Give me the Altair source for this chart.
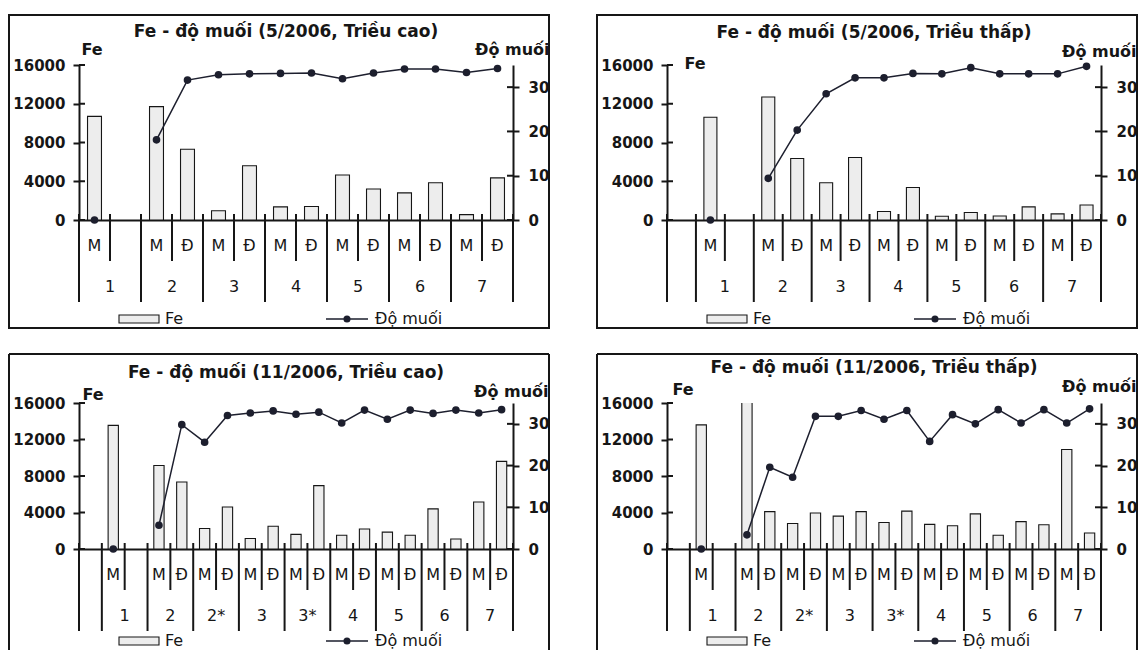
import altair as alt
import pandas as pd

FONT = "DejaVu Sans"
INK = "#161616"
LINE_C = "#1d1f2e"
BAR_FILL = "#ededed"

# ---------------- data ----------------
titles = [
    "Fe - độ muối (5/2006, Triều cao)",
    "Fe - độ muối (5/2006, Triều thấp)",
    "Fe - độ muối (11/2006, Triều cao)",
    "Fe - độ muối (11/2006, Triều thấp)",
]

stations_p1 = ["1", "1", "2", "2", "3", "3", "4", "4", "5", "5", "6", "6", "7", "7"]
subs_p1 = ["M", "", "M", "Đ", "M", "Đ", "M", "Đ", "M", "Đ", "M", "Đ", "M", "Đ"]
fe_p1 = [10700, None, 11700, 7300, 950, 5600, 1350, 1400, 4650, 3200, 2800, 3850, 550, 4350]
sal_p1 = [0, None, 18.1, 31.6, 32.8, 33.0, 33.1, 33.2, 31.9, 33.2, 34.1, 34.1, 33.3, 34.2]

stations_p2 = ["", "1", "1", "2", "2", "3", "3", "4", "4", "5", "5", "6", "6", "7", "7"]
subs_p2 = ["", "M", "", "M", "Đ", "M", "Đ", "M", "Đ", "M", "Đ", "M", "Đ", "M", "Đ"]
fe_p2 = [None, 10600, None, 12700, 6350, 3850, 6450, 870, 3350, 380, 770, 420, 1350, 630, 1550]
sal_p2 = [None, 0, None, 9.4, 20.3, 28.5, 32.1, 32.1, 33.1, 33.0, 34.4, 33.0, 33.0, 33.0, 34.7]

stations_p3 = ["", "1", "1", "2", "2", "2*", "2*", "3", "3", "3*", "3*",
               "4", "4", "5", "5", "6", "6", "7", "7"]
subs_p3 = ["", "M", "", "M", "Đ", "M", "Đ", "M", "Đ", "M", "Đ",
           "M", "Đ", "M", "Đ", "M", "Đ", "M", "Đ"]
fe_p3 = [None, 13550, None, 9150, 7350, 2250, 4600, 1150, 2500, 1600, 6950,
         1500, 2200, 1850, 1500, 4400, 1100, 5150, 9600]
sal_p3 = [None, 0, None, 5.7, 29.8, 25.6, 32.0, 32.6, 33.1, 32.3, 32.8,
          30.2, 33.3, 31.1, 33.3, 32.5, 33.3, 32.6, 33.4]

stations_p4 = list(stations_p3)
subs_p4 = list(subs_p3)
fe_p4 = [None, 13600, None, 17000, 4100, 2800, 3950, 3600, 4100, 2900, 4150,
         2700, 2550, 3850, 1500, 3000, 2650, 10900, 1750]
sal_p4 = [None, 0, None, 3.4, 19.6, 17.2, 31.8, 31.8, 33.2, 31.1, 33.2,
          25.8, 32.2, 30.0, 33.4, 30.2, 33.4, 30.2, 33.6]

fe_ticks = [0, 4000, 8000, 12000, 16000]
sal_ticks = [0, 10, 20, 30]

W = 434


def panel(title, stations, subs, fe, sal, h, fe_title_xy, sal_title_xy, title_dy,
          closed, legend_dy):
    n = len(stations)
    slots = list(range(n))
    seg, s = [], 0
    for v in sal:
        if v is None:
            s += 1
        seg.append(s)
    df = pd.DataFrame({"slot": slots, "station": stations, "sub": subs,
                       "fe": fe, "sal": sal, "seg": seg})
    df_bar = df[[v is not None for v in fe]].copy()
    df_bar["lab"] = "Fe"
    df_line = df[[v is not None for v in sal]].copy()
    df_line["lab"] = "Độ muối"
    long_df = pd.DataFrame({"slot": [i for i in slots if i == 0 or stations[i] != stations[i - 1]]})
    end_df = pd.DataFrame({"slot": [n - 1]})
    short_df = pd.DataFrame({"slot": [i for i in slots[1:] if stations[i] == stations[i - 1] and stations[i] != ""]})
    sub_df = df[df["sub"] != ""]
    st_slots = [i for i in slots if stations[i] != "" and (i == 0 or stations[i] != stations[i - 1])]
    st_df = pd.DataFrame({"slot": st_slots, "station": [stations[i] for i in st_slots]})

    xs = alt.Scale(type="band", domain=slots, paddingInner=0, paddingOuter=0)
    xaxis = alt.Axis(labels=False, ticks=False, title=None, domainColor=INK,
                     domainWidth=2, grid=False)

    def X(bp=0.5):
        return alt.X("slot:O", scale=xs, axis=xaxis, bandPosition=bp)

    bars = alt.Chart(df_bar).mark_bar(
        width=alt.RelativeBandSize(0.45), stroke=INK, strokeWidth=1.1, clip=True
    ).encode(
        x=X(),
        y=alt.Y("fe:Q", scale=alt.Scale(domain=[0, 16000], nice=False),
                axis=alt.Axis(values=fe_ticks, format="d", title="Fe", titleAngle=0,
                              titleAlign="left", titleBaseline="middle",
                              titleX=fe_title_xy[0], titleY=fe_title_xy[1],
                              titleFont=FONT, titleFontSize=16, titleFontWeight="bold",
                              titleColor=INK, labelFont=FONT, labelFontSize=15,
                              labelFontWeight="bold", labelColor=INK, labelPadding=8,
                              domainColor=INK, domainWidth=2, tickColor=INK,
                              tickWidth=2, tickSize=6, grid=False)),
        fill=alt.Fill("lab:N", scale=alt.Scale(domain=["Fe"], range=[BAR_FILL]),
                      legend=alt.Legend(orient="none", legendX=49, legendY=h + legend_dy,
                                        title=None, symbolType="M-2,-0.4H2V0.4H-2Z",
                                        symbolSize=400, symbolStrokeColor=INK,
                                        symbolStrokeWidth=1.1, labelFont=FONT,
                                        labelFontSize=16, labelColor=INK,
                                        labelOffset=15, padding=0)),
    )

    line = alt.Chart(df_line).mark_line(
        strokeWidth=1.5,
        point=alt.OverlayMarkDef(filled=True, fill=LINE_C, size=32),
    ).encode(
        x=X(),
        y=alt.Y("sal:Q", scale=alt.Scale(domain=[0, 35], nice=False),
                axis=alt.Axis(orient="right", values=sal_ticks, title="Độ muối",
                              titleAngle=0, titleAlign="right", titleBaseline="middle",
                              titleX=sal_title_xy[0], titleY=sal_title_xy[1],
                              titleFont=FONT, titleFontSize=16, titleFontWeight="bold",
                              titleColor=INK, labelFont=FONT, labelFontSize=15,
                              labelFontWeight="bold", labelColor=INK, labelPadding=9,
                              domainColor=INK, domainWidth=2, tickColor=INK,
                              tickWidth=2, tickSize=6, grid=False)),
        stroke=alt.Stroke("lab:N", scale=alt.Scale(domain=["Độ muối"], range=[LINE_C]),
                          legend=alt.Legend(orient="none", legendX=257, legendY=h + legend_dy,
                                            title=None,
                                            symbolType="M-2.1,0H2.1M0.28,0A0.28,0.28,0,1,1,-0.28,0A0.28,0.28,0,1,1,0.28,0Z",
                                            symbolSize=400, symbolStrokeWidth=1.5,
                                            symbolFillColor=LINE_C, labelFont=FONT,
                                            labelFontSize=16, labelColor=INK,
                                            labelOffset=17, padding=0)),
        detail="seg:N",
    )

    # inner halves of the crossing tick marks on both value axes
    fe_tick_in = alt.Chart(pd.DataFrame({"v": fe_ticks})).mark_rule(
        color=INK, strokeWidth=2).encode(
        y=alt.Y("v:Q", scale=alt.Scale(domain=[0, 16000], nice=False), axis=None),
        x=alt.value(0), x2=alt.value(6))
    sal_tick_in = alt.Chart(pd.DataFrame({"v": sal_ticks})).mark_rule(
        color=INK, strokeWidth=2).encode(
        y=alt.Y("v:Q", scale=alt.Scale(domain=[0, 35], nice=False), axis=None),
        x=alt.value(W - 6), x2=alt.value(W))

    long_rules = alt.Chart(long_df).mark_rule(color=INK, strokeWidth=2).encode(
        x=X(0), y=alt.value(h - 6), y2=alt.value(h + 82))
    end_rule = alt.Chart(end_df).mark_rule(color=INK, strokeWidth=2).encode(
        x=X(1), y=alt.value(h - 6), y2=alt.value(h + 82))
    short_rules = alt.Chart(short_df).mark_rule(color=INK, strokeWidth=2).encode(
        x=X(0), y=alt.value(h - 6), y2=alt.value(h + 41))
    sub_text = alt.Chart(sub_df).mark_text(font=FONT, fontSize=16, color=INK,
                                           baseline="middle").encode(
        x=X(0.5), y=alt.value(h + 26), text="sub:N")
    st_text = alt.Chart(st_df).mark_text(font=FONT, fontSize=16, color=INK,
                                         baseline="middle").encode(
        x=X(1), y=alt.value(h + 67), text="station:N")

    title_df = pd.DataFrame({"t": [title]})
    title_text = alt.Chart(title_df).mark_text(
        font=FONT, fontSize=17, fontWeight="bold", color=INK, baseline="middle",
        align="center").encode(
        x=alt.value(W / 2 - 10), y=alt.value(title_dy), text="t:N")

    one = pd.DataFrame({"k": [0]})
    if closed:
        frames = [alt.Chart(one).mark_rect(filled=False, stroke=INK, strokeWidth=2).encode(
            x=alt.value(-70), x2=alt.value(W + 36), y=alt.value(-50), y2=alt.value(h + 108))]
    else:
        frames = [
            alt.Chart(one).mark_rule(color=INK, strokeWidth=2).encode(
                x=alt.value(-70), y=alt.value(-49), y2=alt.value(h + 101)),
            alt.Chart(one).mark_rule(color=INK, strokeWidth=2).encode(
                x=alt.value(W + 36), y=alt.value(-49), y2=alt.value(h + 101)),
            alt.Chart(one).mark_rule(color=INK, strokeWidth=2).encode(
                x=alt.value(-70), x2=alt.value(W + 36), y=alt.value(-49)),
        ]

    return alt.layer(*frames, bars, line, fe_tick_in, sal_tick_in, long_rules,
                     end_rule, short_rules, sub_text, st_text, title_text).resolve_scale(
        y="independent").properties(width=W, height=h)


p1 = panel(titles[0], stations_p1, subs_p1, fe_p1, sal_p1, 155, (2, -16), (36, -16), -33, True, 88)
p2 = panel(titles[1], stations_p2, subs_p2, fe_p2, sal_p2, 155, (17, -2), (35, -14), -32, True, 88)
p3 = panel(titles[2], stations_p3, subs_p3, fe_p3, sal_p3, 146, (3, -9), (35, -12), -30, False, 81)
p4 = panel(titles[3], stations_p4, subs_p4, fe_p4, sal_p4, 146, (5, -14), (35, -17), -35, False, 81)

chart = alt.concat(
    p1, p2, p3, p4, columns=2, spacing={"row": 183, "column": 154}, bounds="flush"
).resolve_scale(
    fill="independent", stroke="independent"
).resolve_legend(
    fill="independent", stroke="independent"
).properties(
    padding={"top": 6, "left": 0, "right": 0, "bottom": 0},
    background="white",
).configure_view(strokeWidth=0)

chart.save("out.html", embed_options={"renderer": "svg", "actions": False})
